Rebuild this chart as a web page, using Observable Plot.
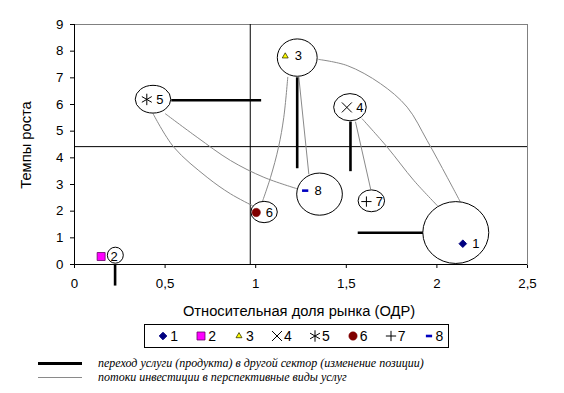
<!DOCTYPE html>
<html><head><meta charset="utf-8">
<script src="https://cdn.jsdelivr.net/npm/d3@7"></script>
<script src="https://cdn.jsdelivr.net/npm/@observablehq/plot@0.6"></script>
<style>
body{margin:0;background:#fff;}
#wrap{position:relative;width:564px;height:393px;font-family:"Liberation Sans",Arial,sans-serif;color:#000;overflow:hidden;}
#wrap svg{display:block;}
.abs{position:absolute;white-space:nowrap;}
.ytitle{left:26px;top:145px;font-size:14.7px;transform:translate(-50%,-50%) rotate(-90deg);}
.xtitle{left:299px;top:311px;font-size:14.7px;transform:translate(-50%,-50%);}
.legbox{left:144px;top:324px;width:303px;height:22px;border:1px solid #000;}
.legitem{top:335.5px;font-size:14px;line-height:14px;transform:translateY(-50%);display:flex;align-items:center;}
.note{font-family:"Liberation Serif","Times New Roman",serif;font-style:italic;font-size:12px;left:98px;transform:translateY(-50%);}
.noteline{left:38px;width:44px;}
</style></head><body><div id="wrap"></div>
<script>
// ---- data ----
const ids      = ["1", "2", "3", "4", "5", "6", "7", "8"];
const shareX   = [2.143, 0.147, 1.163, 1.503, 0.399, 1.003, 1.611, 1.273];   // relative market share
const growthY  = [0.78, 0.30, 7.81, 5.89, 6.19, 1.95, 2.36, 2.77];           // growth rate
// bubbles around the services (centre and half-axes, in data units)
const bubbleX  = [2.107, 0.228, 1.232, 1.523, 0.436, 1.049, 1.641, 1.355];
const bubbleY  = [1.18, 0.33, 7.74, 5.88, 6.18, 1.95, 2.37, 2.62];
const bubbleRX = [0.182, 0.044, 0.110, 0.090, 0.098, 0.073, 0.073, 0.126];
const bubbleRY = [1.16, 0.30, 0.70, 0.51, 0.52, 0.40, 0.41, 0.79];
// sector boundaries
const cutX = 0.97;
const cutY = 4.42;
// position changes (thick lines)
const moveIds = ["5", "3", "4", "1", "2"];
const moveX1  = [0.534, 1.229, 1.523, 1.928, 0.224];
const moveY1  = [6.16, 7.02, 5.36, 1.19, 0];
const moveX2  = [1.030, 1.229, 1.523, 1.563, 0.224];
const moveY2  = [6.16, 3.61, 3.50, 1.19, -0.79];
// investment flows (thin grey curves)
const flow5to6 = [[0.434, 5.65], [0.548, 4.40], [0.732, 3.27], [0.861, 2.65], [0.981, 2.21]];
const flow5to8 = [[0.502, 5.65], [0.677, 4.77], [0.861, 3.90], [1.045, 3.27], [1.229, 2.84]];
const flow3to6 = [[1.177, 7.02], [1.155, 5.52], [1.126, 4.40], [1.082, 3.27], [1.036, 2.34]];
const flow3to8 = [[1.238, 7.02], [1.293, 3.40]];
const flow3to1 = [[1.348, 7.69], [1.505, 7.46], [1.689, 6.78], [1.836, 5.90], [1.946, 4.65], [2.057, 3.27], [2.130, 2.34]];
const flow4to7 = [[1.551, 5.34], [1.634, 2.84]];
const flow4to1 = [[1.588, 5.46], [1.726, 4.40], [1.873, 3.15], [2.002, 2.21]];
// axes
const xTicks = [0, 0.5, 1, 1.5, 2, 2.5];
const yTicks = [0, 1, 2, 3, 4, 5, 6, 7, 8, 9];
const xTitle = "Относительная доля рынка (ОДР)";
const yTitle = "Темпы роста";
const noteMove = "переход услуги (продукта) в другой сектор (изменение позиции)";
const noteFlow = "потоки инвестиции в перспективные виды услуг";

// ---- tables built from the arrays ----
const points = ids.map((id, i) => ({id, x: shareX[i], y: growthY[i]}));
const bubbles = ids.map((id, i) => ({id, x: bubbleX[i], y: bubbleY[i], rx: bubbleRX[i], ry: bubbleRY[i]}));
const moves = moveIds.map((id, i) => ({id, x1: moveX1[i], y1: moveY1[i], x2: moveX2[i], y2: moveY2[i]}));
const flows = {"5-6": flow5to6, "5-8": flow5to8, "3-6": flow3to6, "3-8": flow3to8, "3-1": flow3to1, "4-7": flow4to7, "4-1": flow4to1};
const flowRows = Object.entries(flows).flatMap(([flow, pts]) => pts.map(([x, y]) => ({flow, x, y})));

const dash = {draw(ctx, size) { const w = Math.sqrt(size) * 0.55; ctx.moveTo(-w, -1.3); ctx.lineTo(w, -1.3); ctx.lineTo(w, 1.3); ctx.lineTo(-w, 1.3); ctx.closePath(); }};
const markerStyle = {
  "1": {symbol: "diamond2", fill: "#000080", stroke: "#000080", r: 3.4, strokeWidth: 1},
  "2": {symbol: "square", fill: "#ff00ff", stroke: "#660066", r: 4.5, strokeWidth: 0.8},
  "3": {symbol: "triangle", fill: "#ffff00", stroke: "#333300", r: 2.2, strokeWidth: 0.8},
  "4": {symbol: "times", fill: "none", stroke: "#000", r: 4.6, strokeWidth: 1},
  "5": {symbol: "asterisk", fill: "none", stroke: "#000", r: 5.4, strokeWidth: 1},
  "6": {symbol: "circle", fill: "#800000", stroke: "#800000", r: 4.2, strokeWidth: 0.5},
  "7": {symbol: "plus", fill: "none", stroke: "#000", r: 3.4, strokeWidth: 1},
  "8": {symbol: dash, fill: "#0000c0", stroke: "none", r: 3.2, strokeWidth: 0}
};

const comma = d => String(d).replace(".", ",");

const plot = Plot.plot({
  width: 564, height: 322,
  marginLeft: 74, marginRight: 37, marginTop: 24, marginBottom: 58,
  style: {fontFamily: "'Liberation Sans', Arial, sans-serif", fontSize: "13.3px", background: "white", color: "black", overflow: "visible"},
  x: {domain: [0, 2.5], ticks: xTicks, tickFormat: comma, tickSize: 4, tickPadding: 10, label: null},
  y: {domain: [0, 9], ticks: yTicks, tickSize: 4, tickPadding: 7, label: null},
  marks: [
    Plot.frame({stroke: "#808080"}),
    Plot.ruleX([0], {stroke: "#000"}),
    Plot.ruleY([0], {stroke: "#000"}),
    Plot.ruleX([cutX], {stroke: "#000"}),
    Plot.ruleY([cutY], {stroke: "#000"}),
    Plot.line(flowRows, {x: "x", y: "y", z: "flow", curve: "catmull-rom", stroke: "#8a8a8a", strokeWidth: 1}),
    Plot.link(moves, {x1: "x1", y1: "y1", x2: "x2", y2: "y2", stroke: "#000", strokeWidth: 2.6}),
    Plot.rect(bubbles, {x1: d => d.x - d.rx, x2: d => d.x + d.rx, y1: d => d.y - d.ry, y2: d => d.y + d.ry,
      fill: "white", stroke: "#000", strokeWidth: 1, rx: 999, ry: 999}),
    ...ids.map(id => Plot.dot(points.filter(p => p.id === id), {x: "x", y: "y", ...markerStyle[id]})),
    Plot.text(points, {x: "x", y: "y", text: "id", dx: 13, fontSize: 13, fill: "#000"})
  ]
});

const wrap = document.getElementById("wrap");
wrap.appendChild(plot);

function addDiv(cls, text, css) {
  const d = document.createElement("div");
  d.className = "abs " + cls;
  if (text != null) d.textContent = text;
  if (css) Object.assign(d.style, css);
  wrap.appendChild(d);
  return d;
}
addDiv("ytitle", yTitle);
addDiv("xtitle", xTitle);
addDiv("legbox");

// series legend
const symMap = {diamond2: d3.symbolDiamond2, square: d3.symbolSquare, triangle: d3.symbolTriangle, times: d3.symbolTimes,
  asterisk: d3.symbolAsterisk, circle: d3.symbolCircle, plus: d3.symbolPlus};
ids.forEach((id, i) => {
  const st = markerStyle[id];
  const cx = 163.3 + i * 37.9;
  const item = addDiv("legitem", null, {left: (cx - 7) + "px"});
  const svg = d3.create("svg").attr("width", 14).attr("height", 14).attr("viewBox", "-7 -7 14 14");
  const type = typeof st.symbol === "string" ? symMap[st.symbol] : st.symbol;
  svg.append("path").attr("d", d3.symbol(type, st.r * st.r * Math.PI)())
    .attr("fill", st.fill).attr("stroke", st.stroke).attr("stroke-width", st.strokeWidth);
  item.appendChild(svg.node());
  const t = document.createElement("span");
  t.textContent = id;
  t.style.marginLeft = "0px";
  item.appendChild(t);
});

// line legend
addDiv("noteline", null, {top: "362px", height: "2.6px", background: "#000"});
addDiv("noteline", null, {top: "376.5px", height: "1.2px", background: "#8a8a8a"});
addDiv("note", noteMove, {top: "363px"});
addDiv("note", noteFlow, {top: "377px"});
</script>
</body></html>
